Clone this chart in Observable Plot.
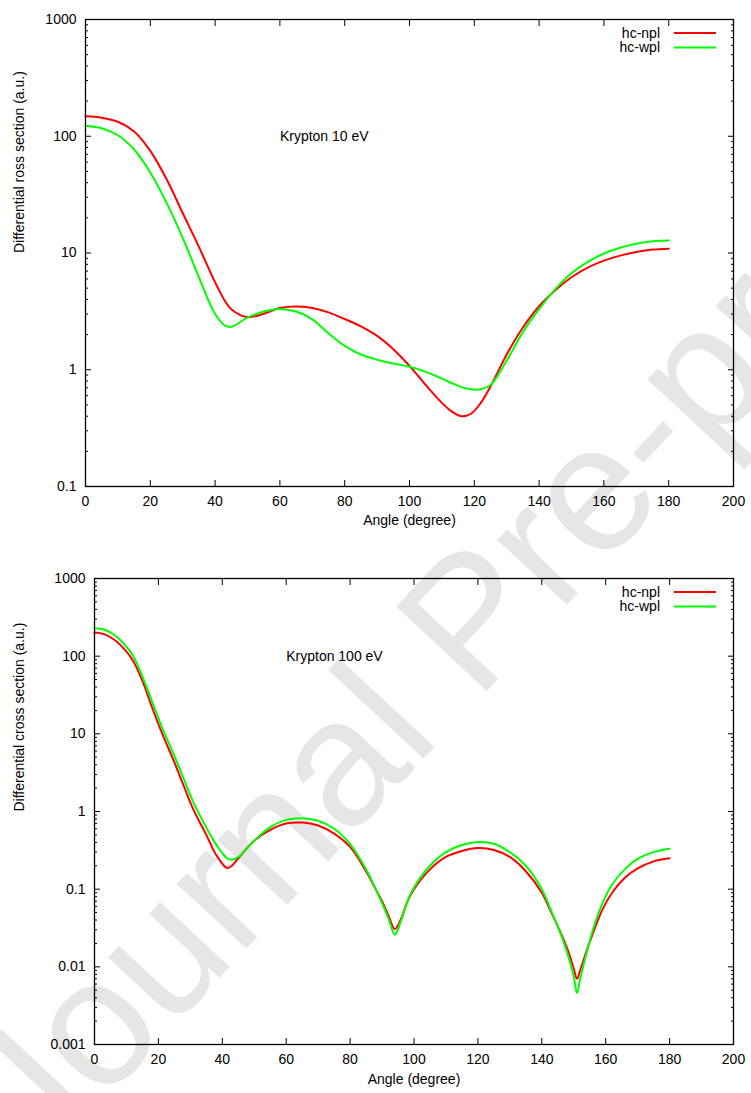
<!DOCTYPE html>
<html><head><meta charset="utf-8">
<script src="https://cdn.jsdelivr.net/npm/d3@7"></script>
<script src="https://cdn.jsdelivr.net/npm/@observablehq/plot@0.6"></script>
<style>
html,body{margin:0;padding:0;background:#fff;}
body{width:751px;height:1093px;position:relative;overflow:hidden;font-family:"Liberation Sans",Arial,sans-serif;}
#wm{position:absolute;left:0;top:0;z-index:0;pointer-events:none;}
#charts{position:relative;z-index:1;}
#charts svg{display:block;}
</style></head><body>
<svg id="wm" width="751" height="1093"></svg>
<div id="charts"></div>
<script>
// ---- data ----
const xTicks = [0, 20, 40, 60, 80, 100, 120, 140, 160, 180, 200];
const yTicksTop = [0.1, 1, 10, 100, 1000];
const yTicksBottom = [0.001, 0.01, 0.1, 1, 10, 100, 1000];
const seriesNames = ["hc-npl", "hc-wpl"];
const seriesColors = ["#ff0000", "#00ff00"];

const angles10 = [0,5,10,15,20,25,30,35,40,43,45,50,55,60,65,70,75,80,85,90,95,100,105,110,113,116,119,122,125,130,135,140,145,150,155,160,165,170,175,180];
const npl10 = [148,144,133,110,75,43,22,11.3,5.6,3.9,3.3,2.82,3.02,3.38,3.48,3.38,3.1,2.72,2.35,1.95,1.5,1.08,0.74,0.52,0.44,0.40,0.42,0.52,0.72,1.35,2.3,3.5,4.8,6.2,7.5,8.6,9.5,10.2,10.7,10.9];
const wpl10 = [123,117,102,77,49,27,13.5,6.2,3.0,2.4,2.33,2.8,3.15,3.32,3.15,2.7,2.05,1.6,1.35,1.22,1.13,1.06,0.96,0.84,0.77,0.71,0.68,0.68,0.74,1.2,2.1,3.3,4.9,6.7,8.4,9.9,11.1,12.0,12.6,12.8];

const angles100 = [0,3,6,9,12,15,18,21,25,28,31,35,38,41.5,43,45,50,55,60,65,70,75,80,85,88,90,92,94,96,98,100,105,110,115,120,125,130,135,140,143,146,148,150,151,152,154,156,159,162,166,170,175,180];
const npl100 = [201,192,165,128,88,48,22,10.5,4.3,2.1,1.05,0.5,0.28,0.187,0.2,0.25,0.42,0.58,0.7,0.72,0.66,0.52,0.35,0.17,0.1,0.07,0.046,0.0306,0.042,0.07,0.1,0.18,0.26,0.31,0.338,0.32,0.26,0.17,0.09,0.05,0.027,0.017,0.0095,0.007,0.009,0.016,0.027,0.055,0.09,0.14,0.185,0.228,0.25];
const wpl100 = [229,220,190,148,102,55,26,12.5,5.2,2.6,1.3,0.62,0.38,0.25,0.239,0.26,0.42,0.63,0.78,0.82,0.76,0.6,0.38,0.18,0.1,0.066,0.042,0.0259,0.04,0.07,0.105,0.2,0.3,0.37,0.404,0.385,0.3,0.2,0.1,0.052,0.026,0.015,0.0075,0.0046,0.007,0.015,0.03,0.066,0.115,0.18,0.245,0.3,0.331];

const labelTop = [{x: 60, y: 100, text: "Krypton 10 eV"}];
const labelBottom = [{x: 60, y: 100, text: "Krypton 100 eV"}];
const xLabel = "Angle (degree)";
const yLabelTop = "Differential ross section (a.u.)";
const yLabelBottom = "Differential cross section (a.u.)";
const watermark = "Journal Pre-proof";

// ---- helpers ----
function minorTicks(lo, hi) {
  const out = [];
  for (let e = lo; e < hi; e++) for (let k = 2; k <= 9; k++) out.push(k * Math.pow(10, e));
  return out;
}
function rows(angles, vals) { return angles.map((a, i) => ({angle: a, value: vals[i]})); }

const FONT = "'Liberation Sans', Arial, Helvetica, sans-serif";

function chart({height, marginTop, marginBottom, marginLeft, yDomain, yTicks, minor, npl, wpl, angles, label, yLabel, yLabelDx, xLabelDy}) {
  const svg = Plot.plot({
    width: 751, height, marginTop, marginBottom, marginLeft, marginRight: 18,
    style: {background: "transparent", fontFamily: FONT, fontSize: "14px", color: "#000", overflow: "visible"},
    x: {domain: [0, 200]},
    y: {type: "log", domain: yDomain},
    marks: [
      Plot.axisX({anchor: "bottom", ticks: xTicks, tickSize: 0, tickPadding: 10, tickFormat: d => String(d), label: null}),
      Plot.axisX({anchor: "bottom", ticks: xTicks, tickSize: -6, tickFormat: () => "", label: null}),
      Plot.axisX({anchor: "top", ticks: xTicks, tickSize: -6, tickFormat: () => "", label: null}),
      Plot.axisY({anchor: "left", ticks: yTicks, tickSize: 0, tickPadding: 9, tickFormat: d => String(d), label: null}),
      Plot.axisY({anchor: "left", ticks: yTicks, tickSize: -6, tickFormat: () => "", label: null}),
      Plot.axisY({anchor: "left", ticks: minor, tickSize: -3, tickFormat: () => "", label: null}),
      Plot.axisY({anchor: "right", ticks: yTicks, tickSize: -6, tickFormat: () => "", label: null}),
      Plot.axisY({anchor: "right", ticks: minor, tickSize: -3, tickFormat: () => "", label: null}),
      Plot.line(rows(angles, npl), {x: "angle", y: "value", stroke: seriesColors[0], strokeWidth: 2, curve: "catmull-rom"}),
      Plot.line(rows(angles, wpl), {x: "angle", y: "value", stroke: seriesColors[1], strokeWidth: 2, curve: "catmull-rom"}),
      Plot.text(label, {x: "x", y: "y", text: "text", textAnchor: "start", fill: "#000"}),
      Plot.text([xLabel], {frameAnchor: "bottom", dy: xLabelDy, fill: "#000"}),
      Plot.text([yLabel], {frameAnchor: "left", rotate: -90, dx: yLabelDx, fill: "#000"}),
      Plot.frame({stroke: "#000", strokeWidth: 1.3})
    ]
  });
  // legend (inside plot, top-right, gnuplot style)
  const s = d3.select(svg);
  const xr = 751 - 18;
  const g = s.append("g").attr("font-family", FONT).attr("font-size", 14);
  seriesNames.forEach((name, i) => {
    const y = marginTop + 14 + i * 14.5;
    g.append("text").attr("x", xr - 73).attr("y", y).attr("dy", "0.35em").attr("text-anchor", "end").attr("fill", "#000").text(name);
    g.append("line").attr("x1", xr - 59).attr("x2", xr - 17).attr("y1", y).attr("y2", y)
      .attr("stroke", seriesColors[i]).attr("stroke-width", 2);
  });
  return svg;
}

const host = document.getElementById("charts");
host.appendChild(chart({
  height: 540, marginTop: 19, marginBottom: 54, marginLeft: 85,
  yDomain: [0.1, 1000], yTicks: yTicksTop, minor: minorTicks(-1, 3),
  npl: npl10, wpl: wpl10, angles: angles10, label: labelTop,
  yLabel: yLabelTop, yLabelDx: -66, xLabelDy: 38
}));
host.appendChild(chart({
  height: 553, marginTop: 38, marginBottom: 49, marginLeft: 94,
  yDomain: [0.001, 1000], yTicks: yTicksBottom, minor: minorTicks(-3, 3),
  npl: npl100, wpl: wpl100, angles: angles100, label: labelBottom,
  yLabel: yLabelBottom, yLabelDx: -75, xLabelDy: 39
}));

// watermark
d3.select("#wm").append("text")
  .attr("transform", "translate(40,1170) rotate(-47)")
  .attr("font-family", FONT).attr("font-size", 180).attr("fill", "#e6e6e6")
  .text(watermark);
</script>
</body></html>
